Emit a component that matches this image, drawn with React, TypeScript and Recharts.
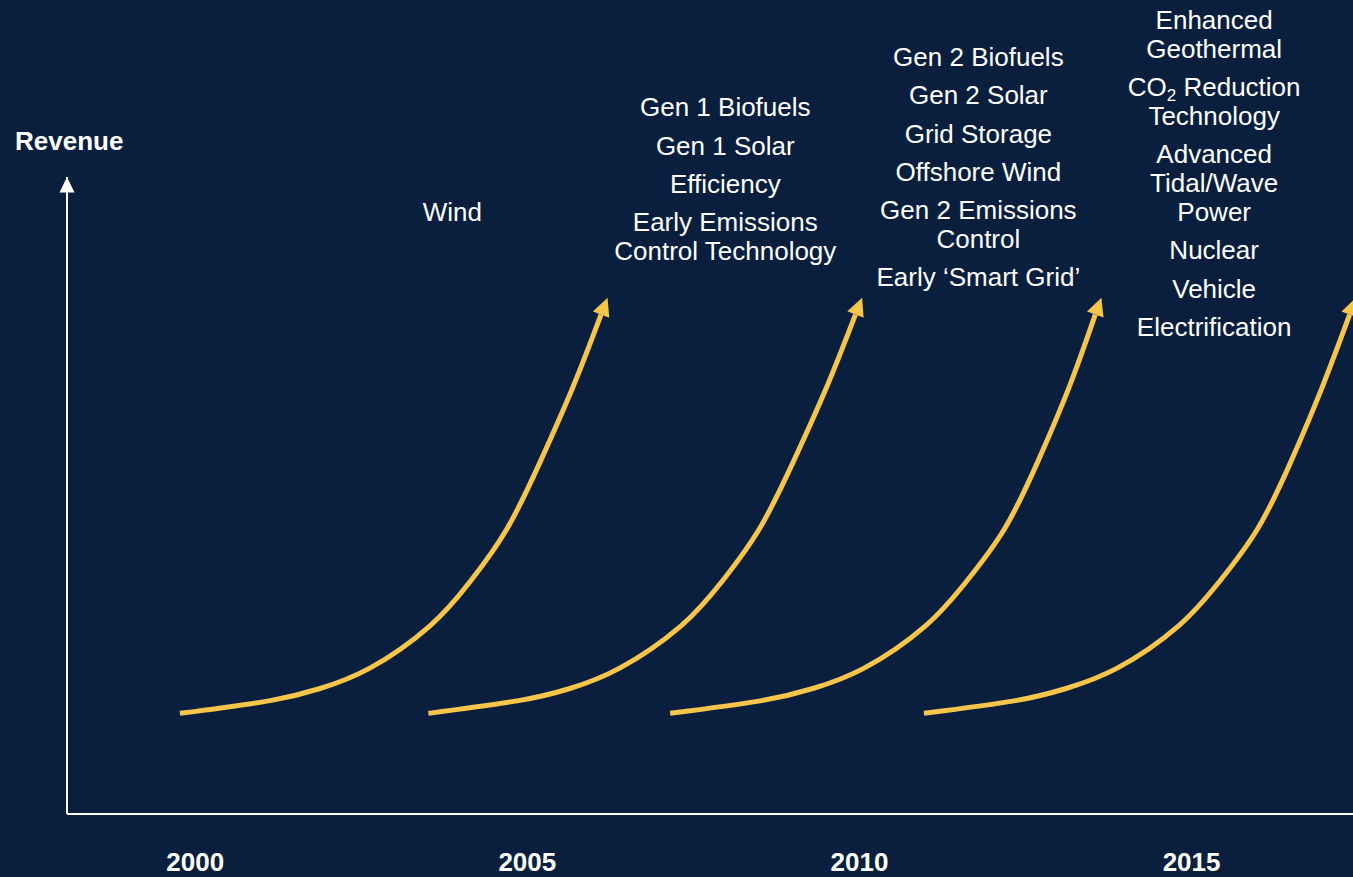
import React from 'react';
import { ComposedChart, Line, XAxis, YAxis, ReferenceDot, ReferenceLine } from 'recharts';

// ---- data ----
const curve1Years = [1999.77, 2001.13, 2001.88, 2002.63, 2003.53, 2004.14, 2004.69, 2005.19, 2005.69, 2006.11];
const curve1Revenue = [15.8, 17.8, 19.7, 22.9, 29.5, 36.5, 44.7, 55.2, 67.1, 78.4];

const curve2Years = [2003.51, 2004.87, 2005.64, 2006.39, 2007.31, 2007.93, 2008.49, 2009.0, 2009.51, 2009.94];
const curve2Revenue = [15.8, 17.8, 19.7, 22.9, 29.5, 36.5, 44.7, 55.2, 67.1, 78.4];

const curve3Years = [2007.15, 2008.53, 2009.3, 2010.07, 2010.99, 2011.61, 2012.18, 2012.68, 2013.16, 2013.55];
const curve3Revenue = [15.8, 17.8, 19.7, 22.9, 29.5, 36.5, 44.7, 55.2, 67.1, 78.4];

const curve4Years = [2010.97, 2012.35, 2013.11, 2013.88, 2014.8, 2015.42, 2015.99, 2016.49, 2016.97, 2017.38];
const curve4Revenue = [15.8, 17.8, 19.7, 22.9, 29.5, 36.5, 44.7, 55.2, 67.1, 78.4];

const tickYears = [2000, 2005, 2010, 2015];
const xDomain = [1998.07, 2017.43];
const yDomain = [0, 100];
const yAxisTitle = 'Revenue';

const windLabel = [['Wind']];
const wave1Label = [
  ['Gen 1 Biofuels'],
  ['Gen 1 Solar'],
  ['Efficiency'],
  ['Early Emissions', 'Control Technology'],
];
const wave2Label = [
  ['Gen 2 Biofuels'],
  ['Gen 2 Solar'],
  ['Grid Storage'],
  ['Offshore Wind'],
  ['Gen 2 Emissions', 'Control'],
  ['Early \u2018Smart Grid\u2019'],
];
const wave3Label = [
  ['Enhanced', 'Geothermal'],
  ['CO\u2082 Reduction', 'Technology'],
  ['Advanced', 'Tidal/Wave', 'Power'],
  ['Nuclear'],
  ['Vehicle'],
  ['Electrification'],
];

// label anchor positions (year, revenue of first baseline)
const labelYears = [2003.87, 2007.98, 2011.79, 2015.34];
const labelRevenue = [93.1, 109.5, 117.4, 123.2];
const labelGroups = [windLabel, wave1Label, wave2Label, wave3Label];

const zip = (xs: number[], ys: number[]) => xs.map((x, i) => ({ year: x, revenue: ys[i] }));
const curves = [
  zip(curve1Years, curve1Revenue),
  zip(curve2Years, curve2Revenue),
  zip(curve3Years, curve3Revenue),
  zip(curve4Years, curve4Revenue),
];

// ---- styles ----
const BG = '#0a1f3e';
const YELLOW = '#f8c54b';
const WHITE = '#ffffff';
const FONT = "'Liberation Sans', Arial, Helvetica, sans-serif";
const FS = 26;
const LINE_GAP = 28.8;
const PARA_GAP = 38.3;

const makeArrowDot = (lastIndex: number) => {
  let prev: { x: number; y: number } | null = null;
  return (props: any) => {
    const { cx, cy, index } = props;
    if (index !== lastIndex) {
      prev = { x: cx, y: cy };
      return <g key={`d-${index}`} />;
    }
    let dx = 0.42;
    let dy = -1;
    if (prev) {
      dx = cx - prev.x;
      dy = cy - prev.y;
    }
    const len = Math.hypot(dx, dy) || 1;
    const ux = dx / len;
    const uy = dy / len;
    const px = -uy;
    const py = ux;
    const L = 18;
    const W = 8.8;
    const tip = [cx + ux * L, cy + uy * L];
    const c1 = [cx + px * W, cy + py * W];
    const c2 = [cx - px * W, cy - py * W];
    return (
      <polygon
        key={`d-${index}`}
        points={`${tip[0]},${tip[1]} ${c1[0]},${c1[1]} ${c2[0]},${c2[1]}`}
        fill={YELLOW}
      />
    );
  };
};

const renderLine = (line: string, key: string, y: number, x: number) => {
  const sub = line.indexOf('\u2082');
  if (sub < 0) {
    return (
      <text key={key} x={x} y={y} textAnchor="middle" fill={WHITE} fontFamily={FONT} fontSize={FS}>
        {line}
      </text>
    );
  }
  return (
    <text key={key} x={x} y={y} textAnchor="middle" fill={WHITE} fontFamily={FONT} fontSize={FS}>
      <tspan>{line.slice(0, sub)}</tspan>
      <tspan fontSize={17} dy={5}>2</tspan>
      <tspan dy={-5}>{line.slice(sub + 1)}</tspan>
    </text>
  );
};

const makeLabelShape = (group: string[][]) => (props: any) => {
  const { cx, cy } = props;
  const out: React.ReactNode[] = [];
  let y = cy;
  group.forEach((para, pi) => {
    if (pi > 0) y += PARA_GAP;
    para.forEach((line, li) => {
      if (li > 0) y += LINE_GAP;
      out.push(renderLine(line, `${pi}-${li}`, y, cx));
    });
  });
  return <g>{out}</g>;
};

const axisArrowShape = (props: any) => {
  const { cx, cy } = props;
  return (
    <g>
      <polygon points={`${cx},${cy} ${cx - 7.5},${cy + 15.5} ${cx + 7.5},${cy + 15.5}`} fill={WHITE} />
      <text x={cx - 52} y={cy - 27} fill={WHITE} fontFamily={FONT} fontSize={FS} fontWeight="bold">
        {yAxisTitle}
      </text>
    </g>
  );
};

const XTick = (props: any) => {
  const { x, y, payload } = props;
  return (
    <text x={x} y={y + 57} textAnchor="middle" fill={WHITE} fontFamily={FONT} fontSize={FS} fontWeight="bold">
      {payload.value}
    </text>
  );
};

export default function App() {
  return (
    <div
      style={{
        position: 'absolute',
        left: 0,
        top: 0,
        width: 1353,
        height: 877,
        background: BG,
        overflow: 'hidden',
      }}
    >
      <ComposedChart width={1353} height={877} margin={{ top: 177, right: 0, bottom: 0, left: 67 }}>
        <XAxis
          dataKey="year"
          type="number"
          domain={xDomain}
          ticks={tickYears}
          allowDataOverflow
          axisLine={{ stroke: WHITE, strokeWidth: 2 }}
          tickLine={false}
          tickSize={0}
          tickMargin={0}
          height={63}
          tick={<XTick />}
        />
        <YAxis type="number" domain={yDomain} allowDataOverflow hide />
        <ReferenceLine x={xDomain[0]} stroke={WHITE} strokeWidth={2} ifOverflow="visible" />
        {curves.map((data, i) => (
          <Line
            key={`curve-${i}`}
            data={data}
            dataKey="revenue"
            type="natural"
            stroke={YELLOW}
            strokeWidth={5}
            dot={makeArrowDot(data.length - 1)}
            activeDot={false}
            isAnimationActive={false}
          />
        ))}
        <ReferenceDot
          x={xDomain[0]}
          y={yDomain[1]}
          r={0}
          ifOverflow="visible"
          shape={axisArrowShape}
        />
        {labelGroups.map((g, i) => (
          <ReferenceDot
            key={`lbl-${i}`}
            x={labelYears[i]}
            y={labelRevenue[i]}
            r={0}
            ifOverflow="visible"
            shape={makeLabelShape(g)}
          />
        ))}
      </ComposedChart>
    </div>
  );
}
